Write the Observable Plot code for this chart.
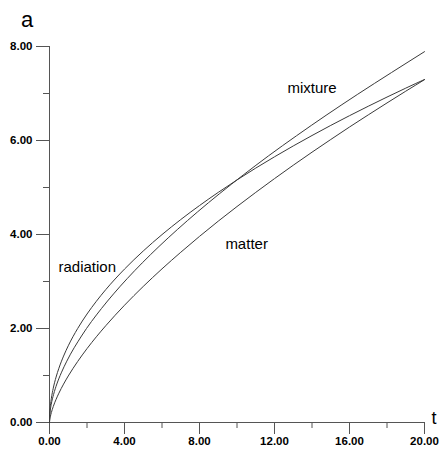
<!DOCTYPE html>
<html>
<head>
<meta charset="utf-8">
<script src="https://cdn.jsdelivr.net/npm/d3@7"></script>
<script src="https://cdn.jsdelivr.net/npm/@observablehq/plot@0.6"></script>
<style>
  html, body { margin: 0; padding: 0; background: #fff; }
  #chart svg { display: block; }
</style>
</head>
<body>
<div id="chart"></div>
<script>
// time grid shared by radiation and matter curves
const tGrid = [0, 0.01, 0.025, 0.05, 0.1, 0.2, 0.35, 0.5, 0.75, 1, 1.5, 2, 2.5, 3, 4, 5, 6, 7, 8, 9, 10, 11, 12, 13, 14, 15, 16, 17, 18, 19, 20];
const radiation = [0, 0.163, 0.258, 0.365, 0.516, 0.730, 0.966, 1.154, 1.413, 1.632, 1.999, 2.308, 2.580, 2.827, 3.264, 3.649, 3.998, 4.318, 4.616, 4.896, 5.161, 5.413, 5.653, 5.884, 6.106, 6.321, 6.528, 6.729, 6.924, 7.114, 7.298];
const matter = [0, 0.046, 0.085, 0.134, 0.213, 0.339, 0.492, 0.624, 0.817, 0.990, 1.297, 1.572, 1.824, 2.059, 2.495, 2.895, 3.269, 3.622, 3.960, 4.284, 4.595, 4.896, 5.189, 5.474, 5.751, 6.021, 6.287, 6.545, 6.799, 7.049, 7.294];
// mixture curve
const tMixture = [0, 0.0036, 0.023, 0.094, 0.217, 0.393, 0.628, 0.923, 1.707, 2.771, 3.416, 4.14, 4.947, 5.839, 6.82, 7.893, 9.06, 10.33, 11.69, 13.17, 14.75, 16.44, 18.24, 20];
const mixture = [0, 0.073, 0.186, 0.385, 0.596, 0.82, 1.056, 1.305, 1.84, 2.425, 2.736, 3.06, 3.396, 3.745, 4.106, 4.48, 4.866, 5.265, 5.676, 6.1, 6.536, 6.985, 7.446, 7.89];

const xMajor = [0, 4, 8, 12, 16, 20];
const xMinor = [2, 6, 10, 14, 18];
const yMajor = [0, 2, 4, 6, 8];
const yMinor = [1, 3, 5, 7];

const radData = tGrid.map((t, i) => ({t, a: radiation[i]}));
const matData = tGrid.map((t, i) => ({t, a: matter[i]}));
const mixData = tMixture.map((t, i) => ({t, a: mixture[i]}));

const fmt = d => d.toFixed(2);
const axisColor = "#555";
const lineColor = "#3a3a3a";

const chart = Plot.plot({
  width: 439,
  height: 453,
  marginLeft: 49,
  marginRight: 15,
  marginTop: 46,
  marginBottom: 31,
  style: {fontFamily: "'Liberation Sans', Arial, sans-serif", background: "#fff", color: "#000"},
  x: {domain: [0, 20]},
  y: {domain: [0, 8]},
  marks: [
    Plot.axisX(xMajor, {tickSize: 12, tickPadding: 2, tickFormat: fmt, stroke: axisColor, fontSize: 11.5, fontWeight: "bold", fill: "#000", label: null}),
    Plot.axisX(xMinor, {tickSize: 6, tickFormat: () => "", stroke: axisColor, label: null}),
    Plot.axisY(yMajor, {tickSize: 13, tickPadding: 4, tickFormat: fmt, stroke: axisColor, fontSize: 11.5, fontWeight: "bold", fill: "#000", label: null}),
    Plot.axisY(yMinor, {tickSize: 6, tickFormat: () => "", stroke: axisColor, label: null}),
    Plot.ruleY([0], {stroke: axisColor}),
    Plot.ruleX([0], {y1: 0, y2: 8, stroke: axisColor}),
    Plot.line(radData, {x: "t", y: "a", stroke: lineColor, strokeWidth: 1, curve: "monotone-x"}),
    Plot.line(matData, {x: "t", y: "a", stroke: lineColor, strokeWidth: 1, curve: "monotone-x"}),
    Plot.line(mixData, {x: "t", y: "a", stroke: lineColor, strokeWidth: 1, curve: "monotone-x"}),
    Plot.text(["radiation"], {x: 0.48, y: 3.31, text: d => d, textAnchor: "start", fontSize: 15, fill: "#000"}),
    Plot.text(["matter"], {x: 9.38, y: 3.8, text: d => d, textAnchor: "start", fontSize: 15, fill: "#000"}),
    Plot.text(["mixture"], {x: 14.0, y: 7.12, text: d => d, textAnchor: "middle", fontSize: 15, fill: "#000"}),
    Plot.text(["a"], {x: -1.2, y: 8.57, text: d => d, textAnchor: "middle", fontSize: 22, fill: "#000"}),
    Plot.text(["t"], {x: 20.37, y: 0.10, text: d => d, textAnchor: "start", fontSize: 18, fill: "#000"})
  ]
});
document.getElementById("chart").appendChild(chart);
</script>
</body>
</html>
